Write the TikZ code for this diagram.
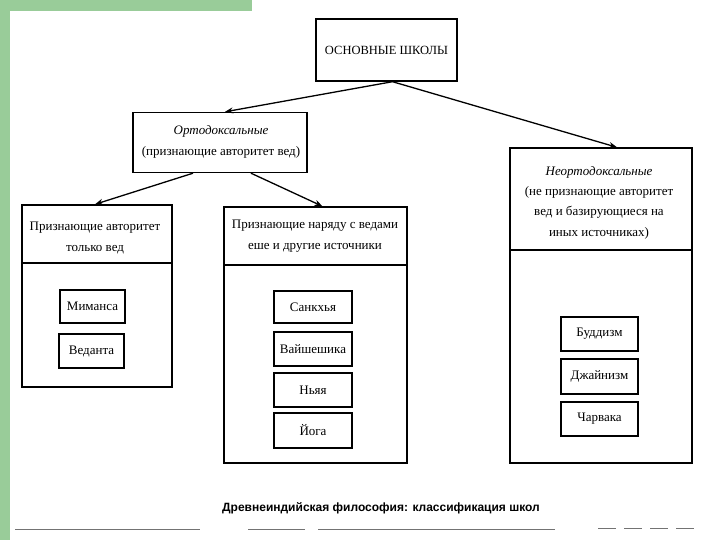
\documentclass[tikz,border=0pt]{standalone}
\usepackage{fontspec}
\setmainfont{Liberation Serif}
\newfontfamily\capfont{Liberation Sans}
\usetikzlibrary{arrows.meta,calc}
\definecolor{slidegreen}{RGB}{153,204,153}
\tikzset{
  box/.style={draw=black, line width=1.4pt, inner sep=0pt, rectangle},
  school/.style={box, font=\fontsize{13}{15}\selectfont},
  hdr/.style={align=center, font=\fontsize{13}{20.3}\selectfont, inner sep=0pt},
  divider/.style={line width=1.4pt},
  arr/.style={line width=1.3pt, -{Stealth[length=8pt,width=6pt]}},
  scanline/.style={line width=1pt, draw=black!55}
}
\begin{document}
\begin{tikzpicture}[x=1pt,y=-1pt]
\useasboundingbox (0,0) rectangle (720,540);
\fill[white] (0,0) rectangle (720,540);
% green frame
\fill[slidegreen] (0,0) rectangle (10,540);
\fill[slidegreen] (0,0) rectangle (252,11);

% top
\node[box, minimum width=141pt, minimum height=62pt, font=\fontsize{12.5}{14}\selectfont] (top) at (386.5,50) {ОСНОВНЫЕ ШКОЛЫ};

% orthodox
\node[box, minimum width=174pt, minimum height=60pt] (orth) at (220,142.5) {};
\node[hdr] (orthT) at (221,142) {\textit{Ортодоксальные}\\(признающие авторитет вед)};

% left big box
\node[box, minimum width=150pt, minimum height=182pt] (L) at (97,296) {};
\coordinate (Ld1) at (22,263); \coordinate (Ld2) at (172,263);
\draw[divider] (Ld1) -- (Ld2);
\node[hdr] (LT) at (95,238) {Признающие авторитет\\только вед};

% middle big box
\node[box, minimum width=183pt, minimum height=256pt] (M) at (315.5,335) {};
\coordinate (Md1) at (224,265); \coordinate (Md2) at (407,265);
\draw[divider] (Md1) -- (Md2);
\node[hdr] (MT) at (315,236) {Признающие наряду с ведами\\еше и другие источники};

% neo box
\node[box, minimum width=182pt, minimum height=315pt] (N) at (601,305.5) {};
\coordinate (Nd1) at (510,250); \coordinate (Nd2) at (692,250);
\draw[divider] (Nd1) -- (Nd2);
\node[hdr] (NT) at (599,202.5) {\textit{Неортодоксальные}\\(не признающие авторитет\\вед и базирующиеся на\\иных источниках)};

% small boxes
\node[school, minimum width=65pt, minimum height=33pt] (mim) at (92.5,306.5) {Миманса};
\node[school, minimum width=65pt, minimum height=34pt] (ved) at (91.5,351) {Веданта};
\node[school, minimum width=78pt, minimum height=32pt] (san) at (313,307) {Санкхья};
\node[school, minimum width=78pt, minimum height=34pt] (vai) at (313,349) {Вайшешика};
\node[school, minimum width=78pt, minimum height=34pt] (nya) at (313,390) {Ньяя};
\node[school, minimum width=78pt, minimum height=35pt] (yog) at (313,430.5) {Йога};
\node[school, minimum width=77pt, minimum height=34pt] (bud) at (599.5,334) {Буддизм};
\node[school, minimum width=77pt, minimum height=35pt] (dja) at (599.5,376.5) {Джайнизм};
\node[school, minimum width=77pt, minimum height=34pt] (cha) at (599.5,419) {Чарвака};

% arrows
\draw[arr] ($(top.south)+(6,0)$) -- ($(orth.north)+(5,0)$);
\draw[arr] ($(top.south)+(6,0)$) -- ($(N.north)+(16,0)$);
\draw[arr] ($(orth.south)+(-27,0)$) -- ($(L.north)+(-2,0)$);
\draw[arr] ($(orth.south)+(31,0)$) -- ($(M.north)+(7,0)$);

% caption
\node[font=\capfont\bfseries\fontsize{12}{14}\selectfont, inner sep=0pt] (cap) at (381,508) {Древнеиндийская философия: классификация школ};

% scan line at bottom
\coordinate (s1) at (15,529); \coordinate (s2) at (200,529);
\coordinate (s3) at (248,529); \coordinate (s4) at (305,529);
\coordinate (s5) at (318,529); \coordinate (s6) at (555,529);
\coordinate (s7) at (598,528); \coordinate (s8) at (700,528);
\draw[scanline] (s1) -- (s2);
\draw[scanline] (s3) -- (s4);
\draw[scanline] (s5) -- (s6);
\draw[scanline, dash pattern=on 18pt off 8pt] (s7) -- (s8);
\end{tikzpicture}
\end{document}
